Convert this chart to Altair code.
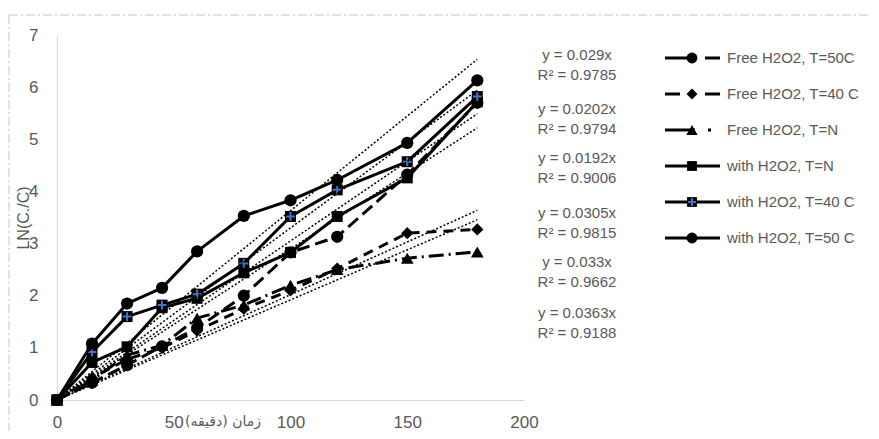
import altair as alt
import pandas as pd

# ---------------- data ----------------
time_min = [0, 15, 30, 45, 60, 80, 100, 120, 150, 180]

free_50 = [0, 0.33, 0.67, 1.03, 1.38, 2.00, 2.83, 3.13, 4.32, 5.70]
free_40 = [0, 0.42, 0.78, 1.00, 1.33, 1.75, 2.10, 2.52, 3.20, 3.27]
free_n = [0, 0.38, 0.86, 1.05, 1.57, 1.82, 2.20, 2.50, 2.72, 2.84]
with_n = [0, 0.72, 1.02, 1.77, 1.95, 2.44, 2.83, 3.52, 4.26, 5.72]
with_40 = [0, 0.92, 1.60, 1.82, 2.03, 2.62, 3.52, 4.03, 4.57, 5.82]
with_50 = [0, 1.08, 1.85, 2.15, 2.85, 3.53, 3.83, 4.22, 4.93, 6.13]

series_names = [
    "Free H2O2, T=50C",
    "Free H2O2, T=40 C",
    "Free H2O2, T=N",
    "with H2O2, T=N",
    "with H2O2, T=40 C",
    "with H2O2, T=50 C",
]
series_values = [free_50, free_40, free_n, with_n, with_40, with_50]

trend_slopes = [0.029, 0.0202, 0.0192, 0.0305, 0.033, 0.0363]
trend_r2 = ["0.9785", "0.9794", "0.9006", "0.9815", "0.9662", "0.9188"]
trend_end = [0, 180]

x_ticks = [0, 50, 100, 150, 200]
y_ticks = [0, 1, 2, 3, 4, 5, 6, 7]

x_title = "زمان (دقیقه)"
y_title = "LN(C./C)"

# ---------------- styles ----------------
W, H = 467, 365
GRAY_TXT = "#595959"
GRAY_LINE = "#d9d9d9"
FONT = "Liberation Sans"

dashes = [[13, 6], [10, 7], [15, 5, 2, 5], None, None, None]
legend_dashes = [[30, 10], [15, 25], [30, 13, 3, 20], None, None, None]
shapes = ["circle", "diamond", "triangle-up", "square", "square", "circle"]
sizes = [150, 150, 160, 121, 121, 150]
PLUS = "M-0.8,0L0.8,0M0,-0.8L0,0.8"

xs = alt.Scale(domain=[0, 200], nice=False, zero=True)
ys = alt.Scale(domain=[0, 7], nice=False, zero=True)

x_axis = alt.Axis(values=x_ticks, title=None, grid=False, ticks=False, tickSize=0,
                  domainColor=GRAY_LINE, domainWidth=1.2, labelColor=GRAY_TXT,
                  labelFontSize=17, labelFont=FONT, labelPadding=14,
                  labelFlush=False, labelOverlap=False)
y_axis = alt.Axis(values=y_ticks, title=None, grid=False, ticks=False, tickSize=0,
                  domainColor=GRAY_LINE, domainWidth=1.2, labelColor=GRAY_TXT,
                  labelFontSize=17, labelFont=FONT, labelPadding=19,
                  labelFlush=False, labelOverlap=False)

X = alt.X("x:Q", scale=xs, axis=x_axis)
Y = alt.Y("y:Q", scale=ys, axis=y_axis)

layers = []

# chart-area border (dash-dot, only top and left visible)
border = pd.DataFrame({"k": [0]})
layers.append(alt.Chart(border).mark_rule(color=GRAY_LINE, strokeWidth=1.5, strokeDash=[9, 3, 2, 3]).encode(
    x=alt.value(-48), x2=alt.value(W + 346), y=alt.value(-20)))
layers.append(alt.Chart(border).mark_rule(color=GRAY_LINE, strokeWidth=1.5, strokeDash=[9, 3, 2, 3]).encode(
    x=alt.value(-48), y=alt.value(-20), y2=alt.value(H + 31)))

# series
for i, (name, vals) in enumerate(zip(series_names, series_values)):
    df = pd.DataFrame({"x": time_min, "y": vals, "series": name})
    line_kw = dict(color="black", strokeWidth=3, strokeJoin="round")
    if dashes[i]:
        line_kw["strokeDash"] = dashes[i]
    layers.append(alt.Chart(df).mark_line(**line_kw).encode(x=X, y=Y))
    layers.append(alt.Chart(df).mark_point(shape=shapes[i], filled=True, color="black",
                                           size=sizes[i], opacity=1).encode(x=X, y=Y))
    if i == 4:
        layers.append(alt.Chart(df).mark_point(shape=PLUS, filled=False, stroke="#4472C4",
                                               strokeWidth=2, size=121, opacity=1).encode(x=X, y=Y))

# trendlines through origin
trend_rows = []
for name, s in zip(series_names, trend_slopes):
    for xe in trend_end:
        trend_rows.append({"series": name, "x": xe, "slope": s})
trend_df = pd.DataFrame(trend_rows)
layers.append(alt.Chart(trend_df).transform_calculate(y="datum.slope * datum.x").mark_line(
    color="black", strokeWidth=1.5, strokeDash=[2, 2]).encode(x=X, y=Y, detail="series:N"))

# trendline equation labels
eq_y = [20, 74, 123, 178, 227, 278]
for s, r, yy in zip(trend_slopes, trend_r2, eq_y):
    d = pd.DataFrame({"t": [f"y = {s}x"], "r": [f"R² = {r}"]})
    layers.append(alt.Chart(d).mark_text(font=FONT, fontSize=15, color=GRAY_TXT, align="center",
                                         baseline="middle").encode(
        x=alt.value(520), y=alt.value(yy), text="t:N"))
    layers.append(alt.Chart(d).mark_text(font=FONT, fontSize=15, color=GRAY_TXT, align="center",
                                         baseline="middle").encode(
        x=alt.value(520), y=alt.value(yy + 20), text="r:N"))

# manual legend
for i, name in enumerate(series_names):
    yy = 23 + i * 36
    d = pd.DataFrame({"label": [name]})
    rk = dict(color="black", strokeWidth=3)
    if legend_dashes[i]:
        rk["strokeDash"] = legend_dashes[i]
    layers.append(alt.Chart(d).mark_rule(**rk).encode(
        x=alt.value(608), x2=alt.value(663), y=alt.value(yy)))
    layers.append(alt.Chart(d).mark_point(shape=shapes[i], filled=True, color="black",
                                          size=sizes[i] * 0.8, opacity=1).encode(
        x=alt.value(635), y=alt.value(yy)))
    if i == 4:
        layers.append(alt.Chart(d).mark_point(shape=PLUS, filled=False, stroke="#4472C4",
                                              strokeWidth=2, size=97, opacity=1).encode(
            x=alt.value(635), y=alt.value(yy)))
    layers.append(alt.Chart(d).mark_text(font=FONT, fontSize=15, color=GRAY_TXT, align="left",
                                         baseline="middle").encode(
        x=alt.value(670), y=alt.value(yy), text="label:N"))

# axis titles
td = pd.DataFrame({"t": [x_title], "u": [y_title]})
layers.append(alt.Chart(td).mark_text(font="DejaVu Sans", fontSize=14, color=GRAY_TXT,
                                      align="center", baseline="middle").encode(
    x=alt.value(166), y=alt.value(387), text="t:N"))
layers.append(alt.Chart(td).mark_text(font=FONT, fontSize=16, color=GRAY_TXT, angle=270,
                                      align="center", baseline="middle").encode(
    x=alt.value(-33), y=alt.value(183), text="u:N"))

chart = alt.layer(*layers).properties(
    width=W, height=H,
    autosize=alt.AutoSizeParams(type="none"),
    padding={"left": 49, "top": 27, "right": 346, "bottom": 31},
).configure_view(stroke=None)

chart.save("out.html", embed_options={"renderer": "svg", "actions": False})
